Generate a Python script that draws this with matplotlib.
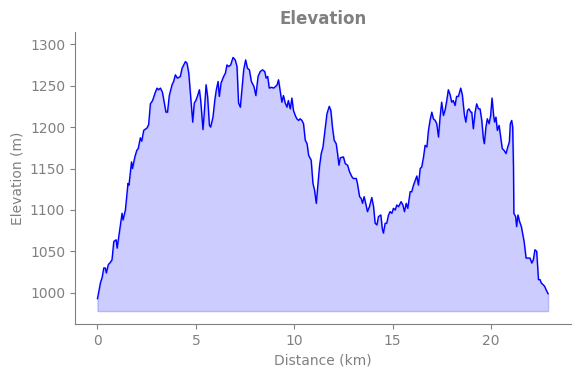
import matplotlib
matplotlib.use("Agg")
import matplotlib.pyplot as plt
import numpy as np

# Distance (km) and elevation (m)
distance_km = [
    0.0, 0.15, 0.24, 0.32, 0.4, 0.45, 0.55, 0.66, 0.74, 0.83, 0.95, 1.0,
    1.12, 1.25, 1.3, 1.42, 1.55, 1.6, 1.73, 1.78, 1.9, 2.0, 2.07, 2.18,
    2.25, 2.35, 2.52, 2.6, 2.69, 2.8, 2.94, 3.03, 3.1, 3.2, 3.3, 3.4,
    3.48, 3.56, 3.65, 3.79, 3.87, 3.96, 4.06, 4.21, 4.3, 4.47, 4.55, 4.64,
    4.75, 4.84, 4.92, 5.0, 5.09, 5.18, 5.25, 5.36, 5.42, 5.52, 5.6, 5.69,
    5.75, 5.87, 5.96, 6.04, 6.13, 6.19, 6.28, 6.41, 6.5, 6.58, 6.66, 6.77,
    6.89, 7.0, 7.09, 7.17, 7.26, 7.34, 7.43, 7.53, 7.62, 7.72, 7.82, 7.95,
    8.05, 8.16, 8.27, 8.39, 8.5, 8.57, 8.65, 8.73, 8.85, 8.95, 9.05, 9.13,
    9.2, 9.29, 9.37, 9.45, 9.54, 9.63, 9.7, 9.8, 9.88, 9.96, 10.05, 10.13,
    10.22, 10.3, 10.39, 10.47, 10.56, 10.65, 10.73, 10.86, 10.95, 11.03, 11.12, 11.2,
    11.28, 11.37, 11.46, 11.57, 11.66, 11.78, 11.86, 11.94, 12.03, 12.13, 12.2, 12.27,
    12.34, 12.5, 12.59, 12.71, 12.81, 12.93, 13.0, 13.15, 13.21, 13.32, 13.4, 13.47,
    13.55, 13.63, 13.72, 13.82, 13.94, 14.03, 14.11, 14.2, 14.28, 14.4, 14.47, 14.53,
    14.62, 14.7, 14.79, 14.87, 14.96, 15.04, 15.13, 15.21, 15.3, 15.43, 15.52, 15.6,
    15.69, 15.77, 15.89, 15.97, 16.06, 16.14, 16.23, 16.31, 16.4, 16.48, 16.57, 16.65,
    16.74, 16.82, 16.9, 16.99, 17.07, 17.16, 17.24, 17.33, 17.41, 17.49, 17.58, 17.66,
    17.75, 17.83, 17.92, 18.0, 18.08, 18.17, 18.25, 18.34, 18.46, 18.54, 18.65, 18.72,
    18.8, 18.88, 18.97, 19.02, 19.1, 19.19, 19.27, 19.36, 19.44, 19.53, 19.61, 19.66,
    19.74, 19.81, 19.9, 19.98, 20.05, 20.13, 20.18, 20.25, 20.32, 20.41, 20.49, 20.57,
    20.66, 20.76, 20.85, 20.93, 20.98, 21.05, 21.1, 21.14, 21.16, 21.25, 21.3, 21.37,
    21.45, 21.54, 21.68, 21.78, 21.9, 21.98, 22.07, 22.15, 22.23, 22.32, 22.41, 22.49,
    22.55, 22.64, 22.72, 22.83, 22.9,
]
elevation_m = [
    993, 1012, 1019, 1030, 1030, 1024, 1034, 1037, 1040, 1062, 1064, 1054,
    1074, 1096, 1088, 1100, 1132, 1130, 1158, 1150, 1164, 1172, 1174, 1187,
    1183, 1196, 1199, 1203, 1228, 1232, 1242, 1247, 1245, 1247, 1242, 1229,
    1218, 1218, 1238, 1251, 1255, 1263, 1259, 1261, 1271, 1279, 1277, 1265,
    1232, 1206, 1229, 1232, 1238, 1245, 1231, 1197, 1215, 1251, 1236, 1202,
    1200, 1212, 1232, 1245, 1255, 1237, 1253, 1261, 1265, 1275, 1273, 1275,
    1284, 1281, 1273, 1229, 1224, 1245, 1269, 1281, 1271, 1269, 1255, 1249,
    1238, 1261, 1267, 1269, 1267, 1259, 1261, 1247, 1248, 1247, 1249, 1251,
    1257, 1243, 1230, 1238, 1229, 1224, 1232, 1222, 1235, 1220, 1214, 1210,
    1208, 1210, 1208, 1204, 1184, 1180, 1166, 1160, 1132, 1124, 1108, 1130,
    1152, 1168, 1176, 1198, 1216, 1225, 1220, 1200, 1184, 1180, 1168, 1154,
    1163, 1164, 1156, 1154, 1146, 1140, 1138, 1138, 1132, 1116, 1114, 1108,
    1116, 1108, 1098, 1104, 1115, 1104, 1084, 1082, 1092, 1094, 1078, 1072,
    1084, 1084, 1094, 1098, 1096, 1102, 1100, 1106, 1104, 1110, 1106, 1098,
    1108, 1102, 1122, 1122, 1130, 1135, 1141, 1130, 1150, 1152, 1164, 1178,
    1176, 1196, 1208, 1218, 1210, 1208, 1204, 1188, 1212, 1230, 1214, 1220,
    1232, 1245, 1239, 1230, 1232, 1226, 1237, 1237, 1247, 1239, 1214, 1206,
    1220, 1222, 1218, 1218, 1198, 1218, 1228, 1222, 1222, 1208, 1186, 1180,
    1200, 1210, 1204, 1214, 1235, 1214, 1206, 1212, 1196, 1202, 1188, 1174,
    1172, 1168, 1176, 1182, 1204, 1208, 1200, 1152, 1096, 1092, 1080, 1094,
    1086, 1080, 1062, 1042, 1042, 1042, 1036, 1040, 1052, 1050, 1016, 1016,
    1012, 1010, 1008, 1002, 999,
]
fill_base = min(elevation_m) - 15

grey = "#808080"

fig = plt.figure(figsize=(5.8, 3.78), dpi=100)
ax = fig.add_axes([0.129, 0.143, 0.855, 0.772])

ax.plot(distance_km, elevation_m, color="blue", linewidth=1.0)
ax.fill_between(distance_km, elevation_m, fill_base, color="blue", alpha=0.2)

ax.set_xlim(-1.15, 24.05)
ax.set_ylim(962.5, 1314.5)
ax.set_xticks([0, 5, 10, 15, 20])
ax.set_yticks([1000, 1050, 1100, 1150, 1200, 1250, 1300])

ax.set_title("Elevation", color=grey, fontsize=12, fontweight="bold")
ax.set_xlabel("Distance (km)", color=grey, fontsize=10)
ax.set_ylabel("Elevation (m)", color=grey, fontsize=10)

for side in ["top", "right"]:
    ax.spines[side].set_visible(False)
for side in ["left", "bottom"]:
    ax.spines[side].set_color(grey)
ax.tick_params(colors=grey, labelsize=10)

fig.savefig("out.png", dpi=100)
